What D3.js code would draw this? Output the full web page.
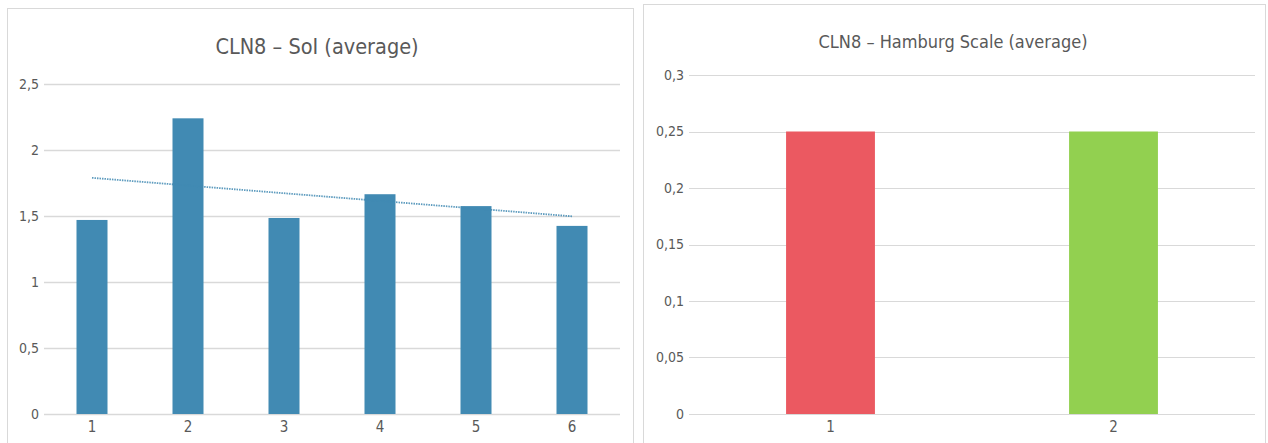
<!DOCTYPE html>
<html>
<head>
<meta charset="utf-8">
<script src="https://cdn.jsdelivr.net/npm/d3@7"></script>
<style>
  html, body { margin: 0; padding: 0; background: #fff; }
  svg { display: block; }
  text { font-family: 'DejaVu Sans Condensed', 'DejaVu Sans', sans-serif; font-stretch: condensed; fill: #595959; }
</style>
</head>
<body>
<svg id="chart" width="1268" height="443"></svg>
<script>
// ---- Data ----
const soiTitle = "CLN8 – SoI (average)";
const soiCategories = ["1", "2", "3", "4", "5", "6"];
const soiValues = [1.47, 2.24, 1.485, 1.665, 1.575, 1.425];
const soiTicks = [0, 0.5, 1, 1.5, 2, 2.5];

const hamTitle = "CLN8 – Hamburg Scale (average)";
const hamCategories = ["1", "2"];
const hamValues = [0.25, 0.25];
const hamColors = ["#eb5961", "#92d050"];
const hamTicks = [0, 0.05, 0.1, 0.15, 0.2, 0.25, 0.3];

const fmt = d => String(+d.toFixed(2)).replace(".", ",");
const svg = d3.select("#chart");

// ---- Panels ----
svg.append("rect").attr("x", 7.5).attr("y", 8.5).attr("width", 626).attr("height", 445)
  .attr("fill", "#fff").attr("stroke", "#d9d9d9");
svg.append("rect").attr("x", 643.5).attr("y", 4.5).attr("width", 622).attr("height", 445)
  .attr("fill", "#fff").attr("stroke", "#d9d9d9");

function drawChart(opts) {
  const g = svg.append("g");
  const x = d3.scaleBand().domain(opts.categories).range([opts.x0, opts.x1]).padding(0);
  const y = d3.scaleLinear().domain([0, opts.ymax]).range([414, opts.ytop]);

  // gridlines
  g.selectAll("line.grid").data(opts.ticks).join("line")
    .attr("x1", opts.x0).attr("x2", opts.x1)
    .attr("y1", d => Math.round(y(d)) + 0.5).attr("y2", d => Math.round(y(d)) + 0.5)
    .attr("stroke", "#d9d9d9").attr("stroke-width", opts.gridW);

  // y tick labels via axis
  const yAxis = d3.axisLeft(y).tickValues(opts.ticks).tickFormat(fmt).tickSize(0).tickPadding(0);
  const ya = g.append("g").attr("transform", `translate(${opts.x0 - 5},0)`).call(yAxis);
  ya.select(".domain").remove();
  ya.attr("font-family", null).attr("font-size", null);
  ya.selectAll("text").attr("font-size", 14).attr("fill", "#595959");

  // bars
  const bw = x.step() * opts.barFrac;
  g.selectAll("rect.bar").data(opts.values).join("rect")
    .attr("x", (d, i) => x(opts.categories[i]) + x.bandwidth() / 2 - bw / 2)
    .attr("y", d => y(d))
    .attr("width", bw)
    .attr("height", d => y(0) - y(d))
    .attr("fill", (d, i) => opts.colors[i % opts.colors.length]);

  // x axis labels via axis
  const xAxis = d3.axisBottom(x).tickSize(0).tickPadding(0);
  const xa = g.append("g").attr("transform", `translate(0,${421})`).call(xAxis);
  xa.select(".domain").remove();
  xa.attr("font-family", null).attr("font-size", null);
  xa.selectAll("text").attr("font-size", 15).attr("fill", "#595959");

  // title
  g.append("text").attr("x", opts.titleX).attr("y", opts.titleY)
    .attr("text-anchor", "middle").attr("font-size", opts.titleSize).text(opts.title);

  return { g, x, y };
}

const left = drawChart({
  categories: soiCategories, values: soiValues, ticks: soiTicks, ymax: 2.5, ytop: 84,
  x0: 44, x1: 620, barFrac: 0.323, colors: ["#418ab3"], gridW: 1.5,
  title: soiTitle, titleX: 317, titleY: 54, titleSize: 21.5
});

// linear trendline (least squares on the bar values)
const n = soiValues.length;
const xs = soiValues.map((d, i) => i + 1);
const mx = d3.mean(xs), my = d3.mean(soiValues);
const slope = d3.sum(xs.map((xv, i) => (xv - mx) * (soiValues[i] - my))) / d3.sum(xs.map(xv => (xv - mx) ** 2));
const icpt = my - slope * mx;
const trendPts = [1, n].map(k => [left.x(soiCategories[k - 1]) + left.x.bandwidth() / 2, left.y(icpt + slope * k)]);
left.g.append("path").attr("d", d3.line()(trendPts))
  .attr("fill", "none").attr("stroke", "#418ab3").attr("stroke-width", 1.8)
  .attr("stroke-opacity", 0.85)
  .attr("stroke-dasharray", "1.5,1");

drawChart({
  categories: hamCategories, values: hamValues, ticks: hamTicks, ymax: 0.3, ytop: 75,
  x0: 689, x1: 1255, barFrac: 0.314, colors: hamColors, gridW: 1,
  title: hamTitle, titleX: 953, titleY: 48, titleSize: 18
});
</script>
</body>
</html>
